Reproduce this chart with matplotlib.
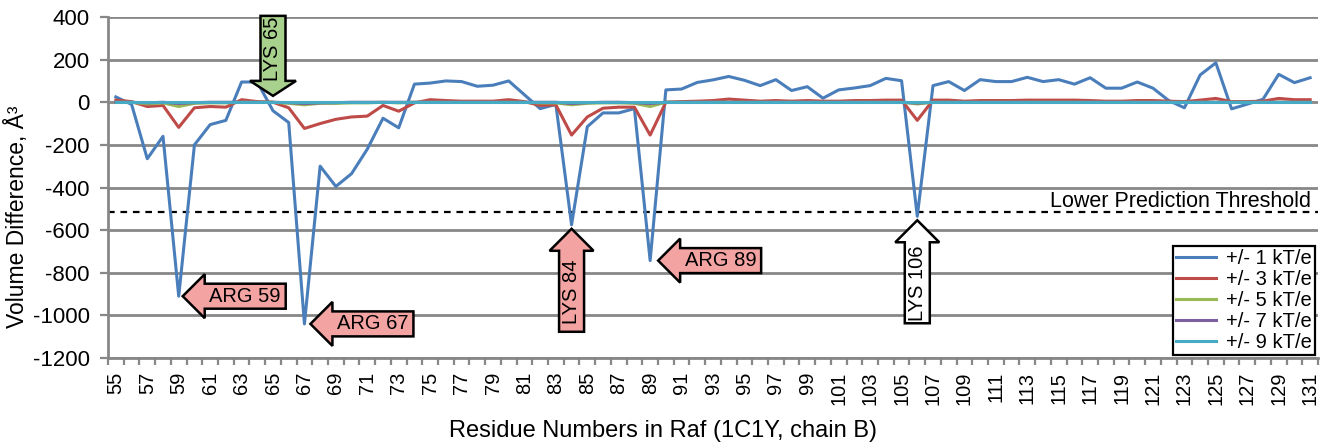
import numpy as np
import matplotlib
matplotlib.use("Agg")
import matplotlib.pyplot as plt
from matplotlib.patches import Polygon
from matplotlib.transforms import IdentityTransform, blended_transform_factory

plt.rcParams['font.family'] = ['Liberation Sans', 'DejaVu Sans']
plt.rcParams['axes.unicode_minus'] = False

# residues 55..131 of Raf (1C1Y, chain B)
residues = list(range(55, 132))

kt1 = [25, -10, -265, -160, -910, -200, -105, -85, 95, 95,
       -40, -95, -1040, -300, -395, -335, -220, -75, -120, 85,
       90, 100, 97, 75, 80, 100, 35, -30, -10, -575,
       -115, -50, -50, -30, -743, 58, 62, 93, 105, 121,
       103, 78, 106, 55, 73, 19, 58, 67, 78, 112,
       101, -535, 78, 97, 55, 106, 97, 97, 117, 97,
       106, 85, 115, 66, 66, 95, 66, 8, -26, 128,
       185, -31, -9, 14, 131, 92, 115]

kt3 = [10, 3, -20, -15, -118, -26, -20, -23, 12, 3,
       0, -26, -123, -100, -80, -69, -65, -15, -42, -3,
       12, 8, 5, 5, 5, 12, 3, -15, -12, -154,
       -69, -28, -23, -23, -154, 0, 3, 5, 8, 15,
       10, 5, 8, 5, 8, 5, 5, 8, 8, 10,
       10, -85, 10, 10, 5, 8, 8, 8, 10, 10,
       10, 10, 8, 5, 5, 8, 8, 5, 3, 10,
       18, 3, 3, 5, 18, 12, 12]

kt5 = [0, 0, -8, -3, -20, -5, -3, -3, 0, 0,
       0, -5, -12, -5, -5, -3, -3, 0, -3, 0,
       0, 0, 0, 0, 0, 0, 0, -3, -3, -12,
       -5, -3, -3, -5, -20, 0, 0, 0, 0, 0,
       0, 0, 0, 0, 0, 0, 0, 0, 0, 0,
       0, -8, 0, 0, 0, 0, 0, 0, 0, 0,
       0, 0, 0, 0, 0, 0, 0, 0, 0, 0,
       0, 0, 0, 0, 0, 0, 0]

kt7 = [0, 0, -3, 0, -6, -2, 0, 0, 0, 0,
       0, -2, -6, -3, -2, 0, 0, 0, 0, 0,
       0, 0, 0, 0, 0, 0, 0, 0, 0, -6,
       -2, 0, 0, -2, -6, 0, 0, 0, 0, 0,
       0, 0, 0, 0, 0, 0, 0, 0, 0, 0,
       0, -4, 0, 0, 0, 0, 0, 0, 0, 0,
       0, 0, 0, 0, 0, 0, 0, 0, 0, 0,
       0, 0, 0, 0, 0, 0, 0]

kt9 = [0] * len(residues)

labels = ["+/- 1 kT/e", "+/- 3 kT/e", "+/- 5 kT/e", "+/- 7 kT/e", "+/- 9 kT/e"]
colors = ["#4A7EBB", "#BE4B48", "#98B954", "#7D60A0", "#46AAC5"]

threshold = -515

# annotated residues: (residue, label, direction, fill)
callouts = [(59, "ARG 59", "left", "#F4A3A3"),
            (65, "LYS 65", "down", "#A9D18E"),
            (67, "ARG 67", "left", "#F4A3A3"),
            (84, "LYS 84", "up", "#F4A3A3"),
            (89, "ARG 89", "left", "#F4A3A3"),
            (106, "LYS 106", "up", "#FFFFFF")]
# LYS 65 points at the baseline, not at a dip
callout_level = {65: 30}

grid_col = "#878787"

fig = plt.figure(figsize=(13.21, 4.46), dpi=100)
ax = fig.add_axes([108 / 1321, 1 - 358 / 446, 1210 / 1321, 341 / 446])

x = np.arange(len(residues))
for vals, lab, col in zip([kt1, kt3, kt5, kt7, kt9], labels, colors):
    ax.plot(x, vals, color=col, lw=2.2, label=lab, zorder=3)

ax.axhline(threshold, color="black", lw=1.6, linestyle=(0, (3, 2.6)), zorder=2.5)
trans = blended_transform_factory(ax.transAxes, ax.transData)
ax.text(0.994, threshold, "Lower Prediction Threshold", transform=trans,
        ha="right", va="bottom", fontsize=15.5)

ax.set_xlim(-0.5, len(residues) - 0.5)
ax.set_ylim(-1200, 400)
ax.set_yticks(np.arange(-1200, 401, 200))
ax.yaxis.grid(True, color=grid_col, lw=2)
ax.set_axisbelow(True)
for side in ["top", "right"]:
    ax.spines[side].set_visible(False)
for side in ["left", "bottom"]:
    ax.spines[side].set_color(grid_col)
    ax.spines[side].set_linewidth(2)

ax.set_xticks(x[::2])
ax.set_xticklabels([str(r) for r in residues[::2]], rotation=90)
ax.set_xticks(np.arange(-0.5, len(residues), 1), minor=True)
ax.tick_params(axis="x", which="major", length=0, pad=10, labelsize=14.5)
ax.tick_params(axis="x", which="minor", length=5, width=1.6, color=grid_col)
ax.tick_params(axis="y", length=6, width=1.6, color=grid_col, pad=7, labelsize=16)

leg = ax.legend(loc="lower right", bbox_to_anchor=(1, 0), fontsize=14.5,
                handlelength=2.0, handletextpad=0.5, labelspacing=0.1,
                borderpad=0.15, borderaxespad=0.15, fancybox=False, framealpha=1)
leg.get_frame().set_edgecolor("black")
leg.get_frame().set_linewidth(1.6)

fig.text(17 / 1321, 1 - 217 / 446, "Volume Difference, Å³", rotation=90,
         ha="center", va="center", fontsize=16.5)
fig.text(663 / 1321, 1 - 437 / 446, "Residue Numbers in Raf (1C1Y, chain B)",
         ha="center", va="baseline", fontsize=17)


def block_arrow(res, text, direction, fill):
    i = residues.index(res)
    level = callout_level.get(res, kt1[i])
    tx, ty = ax.transData.transform((i, level))
    if direction == "down":
        gap, length, head_len, head_w, body_w = 0, 80, 15, 23, 12.5
    else:
        gap, length, head_len, head_w, body_w = 4, 103, 22, 22, 12.5
    if res == 67:
        gap = 6
    if res == 89:
        gap = 8
    local = [(0, 0), (head_len, head_w), (head_len, body_w), (length, body_w),
             (length, -body_w), (head_len, -body_w), (head_len, -head_w)]
    uc = (head_len + length) / 2
    if direction == "left":
        pts = [(tx + gap + u, ty + v) for u, v in local]
        cx, cy, rot = tx + gap + uc, ty, 0
    elif direction == "up":
        pts = [(tx + v, ty - gap - u) for u, v in local]
        cx, cy, rot = tx, ty - gap - uc, 90
    else:
        pts = [(tx + v, ty + gap + u) for u, v in local]
        cx, cy, rot = tx, ty + gap + uc, 90
    ax.add_patch(Polygon(pts, closed=True, facecolor=fill, edgecolor="black",
                         lw=1.8, transform=IdentityTransform(), clip_on=False,
                         zorder=5))
    ax.text(cx, cy, text, transform=IdentityTransform(), ha="center",
            va="center", rotation=rot, fontsize=14.5, zorder=6)


for res, text, direction, fill in callouts:
    block_arrow(res, text, direction, fill)

fig.savefig("out.png", dpi=100)
